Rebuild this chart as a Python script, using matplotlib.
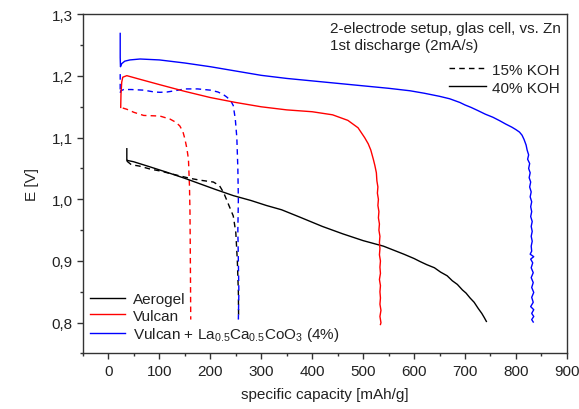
import matplotlib
matplotlib.use("Agg")
import matplotlib.pyplot as plt
from matplotlib.lines import Line2D
from matplotlib.ticker import MultipleLocator

plt.rcParams['font.family'] = ['Liberation Sans', 'DejaVu Sans']
plt.rcParams['mathtext.fontset'] = 'custom'
plt.rcParams['mathtext.rm'] = 'Liberation Sans'
plt.rcParams['mathtext.it'] = 'Liberation Sans'

# --- discharge curves: specific capacity [mAh/g] vs. E [V] ---

# Aerogel, 40% KOH
aerogel_40_x = [36, 36, 37, 49, 80, 114, 150, 180, 210, 245, 280, 310, 340, 376, 420, 460,
                500, 540, 580, 600, 612, 625, 640, 652, 665, 675, 685, 695, 702, 710, 718,
                726, 733, 738, 742]
aerogel_40_y = [1.082, 1.063, 1.063, 1.061, 1.053, 1.044, 1.034, 1.025, 1.016, 1.006, 0.998,
                0.990, 0.983, 0.971, 0.956, 0.944, 0.933, 0.924, 0.911, 0.904, 0.899, 0.894,
                0.889, 0.882, 0.876, 0.868, 0.862, 0.853, 0.848, 0.840, 0.833, 0.823, 0.815,
                0.808, 0.802]

# Aerogel, 15% KOH
aerogel_15_x = [36, 45, 60, 82, 101, 130, 160, 180, 206, 218, 226, 235, 245, 250, 253, 255, 255.5]
aerogel_15_y = [1.062, 1.056, 1.054, 1.049, 1.046, 1.040, 1.034, 1.031, 1.028, 1.022, 1.011,
                0.993, 0.973, 0.946, 0.900, 0.850, 0.806]

# Vulcan, 40% KOH
vulcan_40_x = [24, 24.5, 26, 28, 36, 60, 100, 150, 200, 250, 300, 350, 400, 440, 470, 490,
               503, 510, 515, 520, 523, 526, 527, 529, 528, 530, 529, 531, 530, 532, 531, 533,
               532, 533, 532, 534, 533, 534, 532, 534, 533, 534, 533, 535, 533, 535, 534]
vulcan_40_y = [1.149, 1.170, 1.190, 1.198, 1.2005, 1.195, 1.186, 1.175, 1.165, 1.157, 1.150,
               1.145, 1.142, 1.137, 1.128, 1.116, 1.100, 1.090, 1.080, 1.065, 1.055, 1.043,
               1.030, 1.020, 1.010, 1.000, 0.990, 0.980, 0.970, 0.960, 0.950, 0.940, 0.930,
               0.920, 0.910, 0.900, 0.890, 0.880, 0.870, 0.860, 0.850, 0.840, 0.830, 0.820,
               0.810, 0.800, 0.797]

# Vulcan, 15% KOH
vulcan_15_x = [28, 36, 50, 69, 101, 121, 132, 140, 146, 150, 154, 157, 159, 160, 160.5, 161, 161.5]
vulcan_15_y = [1.148, 1.146, 1.141, 1.136, 1.135, 1.130, 1.125, 1.119, 1.110, 1.098, 1.082,
               1.065, 1.022, 0.980, 0.930, 0.870, 0.805]

# Vulcan + La0.5Ca0.5CoO3, 40% KOH
perov_40_x = [23, 23, 23.5, 26, 32, 42, 62, 100, 150, 200, 250, 300, 350, 400, 450, 500, 550,
              592, 620, 650, 670, 690, 700, 712, 725, 740, 755, 768, 780, 792, 800, 807, 812,
              816, 820, 822, 825, 823, 827, 825, 828, 826, 829, 827, 830, 828, 831, 829, 831,
              829, 832, 830, 832, 830, 832, 830, 831, 828, 835, 829, 833, 830, 834, 830, 834,
              831, 835, 831, 834, 829, 835, 831, 835, 831, 834]
perov_40_y = [1.269, 1.230, 1.215, 1.220, 1.224, 1.226, 1.2275, 1.226, 1.221, 1.215, 1.208,
              1.201, 1.196, 1.192, 1.188, 1.184, 1.180, 1.176, 1.172, 1.167, 1.163, 1.157,
              1.153, 1.149, 1.144, 1.138, 1.133, 1.1275, 1.122, 1.117, 1.113, 1.109, 1.104,
              1.097, 1.088, 1.080, 1.072, 1.065, 1.058, 1.050, 1.043, 1.035, 1.028, 1.020,
              1.012, 1.004, 0.996, 0.988, 0.980, 0.972, 0.964, 0.956, 0.948, 0.940, 0.932,
              0.924, 0.916, 0.911, 0.907, 0.903, 0.897, 0.889, 0.881, 0.873, 0.865, 0.857,
              0.849, 0.841, 0.833, 0.826, 0.821, 0.815, 0.810, 0.805, 0.801]

# Vulcan + La0.5Ca0.5CoO3, 15% KOH
perov_15_x = [23, 23, 24, 30, 45, 69, 90, 101, 115, 130, 150, 175, 200, 215, 225, 232, 240,
              245, 249, 252, 254, 255, 254, 255, 256, 255]
perov_15_y = [1.203, 1.172, 1.176, 1.178, 1.178, 1.177, 1.174, 1.1735, 1.174, 1.176, 1.179,
              1.179, 1.177, 1.174, 1.170, 1.166, 1.160, 1.152, 1.130, 1.100, 1.050, 1.000,
              0.950, 0.900, 0.850, 0.805]

series_labels = ["Aerogel", "Vulcan", r"Vulcan + La$_{0.5}$Ca$_{0.5}$CoO$_3$ (4%)"]
series_colors = ["black", "#ff0000", "#0000ff"]
koh_labels = ["15% KOH", "40% KOH"]

x_ticks = [0, 100, 200, 300, 400, 500, 600, 700, 800, 900]
x_tick_labels = ["0", "100", "200", "300", "400", "500", "600", "700", "800", "900"]
y_ticks = [0.8, 0.9, 1.0, 1.1, 1.2, 1.3]
y_tick_labels = ["0,8", "0,9", "1,0", "1,1", "1,2", "1,3"]

fs = 11
txt_color = '#222222'

fig = plt.figure(figsize=(5.79, 4.10), dpi=100)
ax = fig.add_axes([0.1434, 0.1354, 0.8356, 0.8273])

dash = (0, (4, 3))
lw = 1.0
ax.plot(aerogel_15_x, aerogel_15_y, color=series_colors[0], lw=lw, linestyle=dash)
ax.plot(vulcan_15_x, vulcan_15_y, color=series_colors[1], lw=lw, linestyle=dash)
ax.plot(perov_15_x, perov_15_y, color=series_colors[2], lw=lw, linestyle=dash)
ax.plot(aerogel_40_x, aerogel_40_y, color=series_colors[0], lw=lw)
ax.plot(vulcan_40_x, vulcan_40_y, color=series_colors[1], lw=lw)
ax.plot(perov_40_x, perov_40_y, color=series_colors[2], lw=lw)

ax.set_xlim(-50, 900)
ax.set_ylim(0.75, 1.3)
ax.set_xticks(x_ticks)
ax.set_xticklabels(x_tick_labels)
ax.set_yticks(y_ticks)
ax.set_yticklabels(y_tick_labels)
ax.xaxis.set_minor_locator(MultipleLocator(50))
ax.yaxis.set_minor_locator(MultipleLocator(0.05))
ax.tick_params(which='both', direction='out', top=False, right=False,
               color='#333333', labelcolor=txt_color, labelsize=fs)
ax.tick_params(which='major', length=4.3, width=1.0, pad=3)
ax.tick_params(which='minor', length=2.3, width=1.0)
for sp in ax.spines.values():
    sp.set_color('#333333')
    sp.set_linewidth(1.0)

ax.set_xlabel("specific capacity [mAh/g]", fontsize=fs, color=txt_color, labelpad=7)
ax.set_ylabel("E [V]", fontsize=fs, color=txt_color, labelpad=9)

# sample legend (bottom left)
series_handles = [Line2D([], [], color=c, lw=lw) for c in series_colors]
leg1 = ax.legend(series_handles, series_labels, loc='lower left',
                 bbox_to_anchor=(0.0145, 0.031), borderaxespad=0, borderpad=0,
                 frameon=False, fontsize=fs, handlelength=2.3, handletextpad=0.5,
                 labelspacing=0.15, labelcolor=txt_color)
ax.add_artist(leg1)

# electrolyte legend (top right)
koh_handles = [Line2D([], [], color='black', lw=lw, linestyle=dash),
               Line2D([], [], color='black', lw=lw)]
ax.legend(koh_handles, koh_labels, loc='upper right', bbox_to_anchor=(0.985, 0.857),
          borderaxespad=0, borderpad=0, frameon=False, fontsize=fs,
          handlelength=2.4, handletextpad=0.4, labelspacing=0.25, labelcolor=txt_color)

ax.text(0.510, 0.9596, "2-electrode setup, glas cell, vs. Zn", transform=ax.transAxes,
        ha='left', va='center', fontsize=fs, color=txt_color)
ax.text(0.510, 0.9095, "1st discharge (2mA/s)", transform=ax.transAxes,
        ha='left', va='center', fontsize=fs, color=txt_color)

fig.savefig("out.png", dpi=100)
